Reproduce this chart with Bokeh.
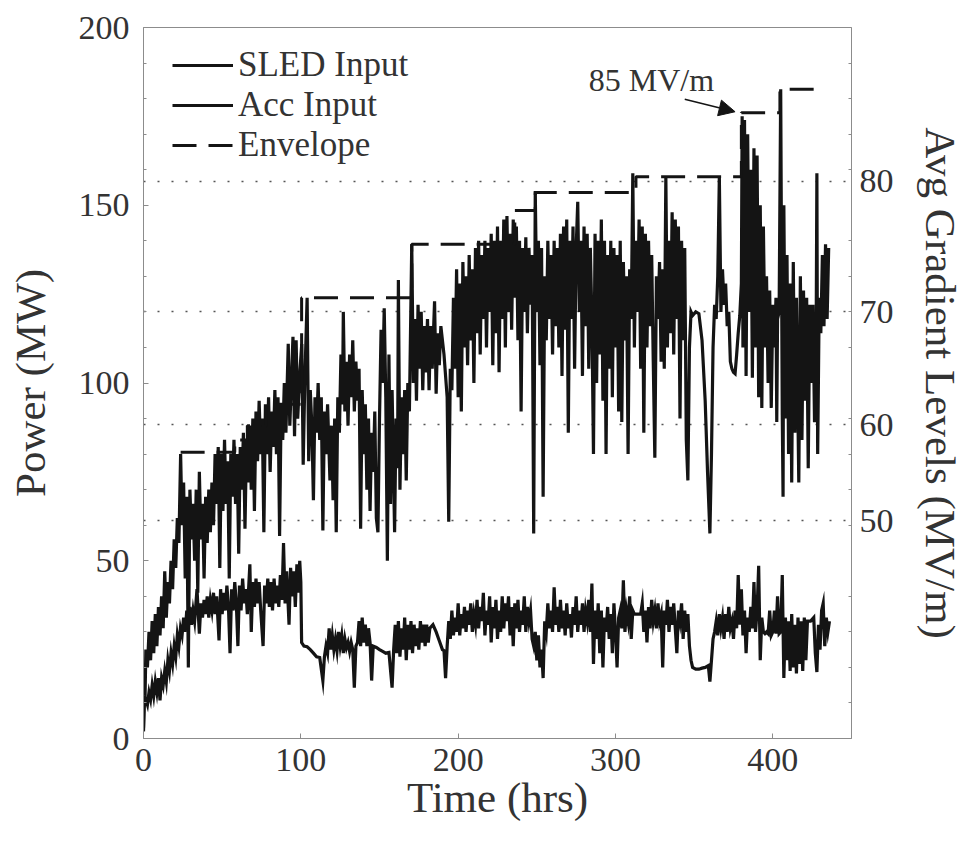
from bokeh.plotting import figure
from bokeh.models import (Range1d, LinearAxis, FixedTicker, Legend, LegendItem,
                          Label, Arrow, NormalHead)
from bokeh.embed import file_html
from bokeh.resources import INLINE

# ---------------- data ----------------
# SLED input power (hrs, MW)
SLED_POINTS = [
    (0, 3), (0.5, 18), (1, 12), (1.5, 25), (2.5, 20), (3.5, 30), (4.5, 22), (5.5, 33), (6.5, 24),
    (7.5, 35), (8.5, 26), (9.5, 37), (10.5, 29), (11.5, 40), (12.5, 31), (13.5, 47), (14.5, 34),
    (15.5, 44), (16.5, 38), (17.5, 50), (18.5, 42), (19.5, 56), (20.5, 48), (21.5, 62), (22.5, 55),
    (23.6, 80), (24.5, 60), (25.5, 72), (26.5, 45), (27.5, 68), (28.5, 20), (29.5, 70), (30.5, 56),
    (31.5, 66), (32.5, 50), (33.5, 70), (34.5, 41), (35.5, 75), (36.5, 56), (37.5, 66), (38.5, 45),
    (39.5, 68), (40.5, 55), (41.5, 70), (42.5, 58), (43.5, 72), (44.5, 60), (45.5, 80), (46.5, 66),
    (47.5, 82), (48.5, 48), (49.5, 80), (50.5, 64), (51.5, 84), (52.5, 66), (53.5, 78), (54.5, 45),
    (55.5, 80), (56.5, 68), (57.5, 84), (58.5, 66), (59.5, 80), (60.5, 52), (61.5, 82), (62.5, 70),
    (63.5, 86), (64.5, 59), (65.5, 84), (66.5, 72), (67.5, 88), (68.5, 70), (69.5, 90), (70.5, 64),
    (71.5, 92), (72.5, 78), (73.5, 95), (74.5, 80), (75.5, 90), (76.5, 58), (77.5, 94), (78.5, 80),
    (79.5, 96), (80.5, 75), (81.5, 92), (82.5, 82), (83.5, 98), (84.5, 80), (85.5, 96), (86.5, 57),
    (87.5, 94), (88.5, 84), (89.5, 100), (90.5, 86), (92, 111), (93, 88), (95, 113), (96, 85),
    (97, 112), (98, 90), (99.5, 104), (100.6, 111), (101.5, 77), (102.5, 100), (104, 124), (105, 78),
    (106, 98), (107, 88), (108, 67), (109, 96), (110, 86), (111, 100), (112, 84), (113, 96),
    (114, 58.5), (115, 92), (116, 80), (117, 94), (118.5, 72.6), (119.5, 88), (120.5, 67), (121.5, 90),
    (122.5, 58), (123.5, 96), (124.5, 86), (125.5, 108), (126.5, 94), (127, 120), (128, 92), (129, 106),
    (130, 88), (131, 108), (132, 96), (133, 112), (134, 92), (135, 106), (136, 95), (137, 104),
    (138, 59), (139, 98), (140, 80), (141, 94), (142, 70), (143, 90), (144, 64), (145, 86), (146, 75),
    (147, 92), (148, 62), (149, 58), (150, 90), (151, 115), (152, 100), (153, 121), (154, 96), (155, 50),
    (156, 108), (157, 66), (158, 98), (159.6, 58), (160.5, 90), (161.5, 76), (162, 129), (163, 70),
    (164, 96), (165, 80), (166, 98), (167, 72.6), (168, 100), (169, 92), (170.5, 139), (171.5, 100),
    (172.5, 118), (173.5, 95), (174.5, 122), (175.5, 104), (176.5, 120), (177.5, 98), (178.5, 116),
    (179.5, 103), (180.5, 118), (181.5, 98), (182.5, 116), (183.5, 104), (185, 123), (186, 97),
    (187, 114), (188, 105), (189, 116), (191, 108), (193, 96), (194, 61), (195, 104), (196, 98),
    (197, 124), (198, 104), (199, 132), (200, 96), (201, 128), (202, 92), (203, 134), (204, 110),
    (205, 130), (206, 105), (207, 136), (208, 112), (209, 132), (210, 100), (211, 138), (212, 114),
    (213, 140), (214, 108), (215, 136), (216, 118), (217, 140), (218, 110), (219, 138), (220, 120),
    (221, 142), (222, 105), (223, 140), (224, 114), (225, 144), (226, 103), (227, 140), (228, 118),
    (229, 146), (230, 110), (231, 147), (232, 120), (233, 142), (234, 115), (235, 146), (236, 124),
    (237, 144), (238, 112), (239, 140), (240, 92), (241, 138), (242, 120), (243, 141), (244, 114),
    (245, 138), (246, 122), (247, 136), (248, 57.7), (249, 154), (250, 120), (251, 140), (252, 105),
    (253, 138), (254, 68), (255, 130), (256, 112), (257, 140), (258, 118), (259, 136), (260, 108),
    (261, 140), (262, 116), (263, 138), (264, 110), (265, 142), (266, 102), (267, 144), (268, 115),
    (269, 146), (270, 86), (271, 140), (272, 118), (273, 144), (274, 104), (275, 138), (276, 151),
    (277, 120), (278, 140), (279, 102), (280, 144), (281, 116), (282, 142), (283, 104), (284, 138),
    (285, 118), (286, 80), (287, 142), (288, 100), (289, 140), (290, 108), (291, 146), (292, 95),
    (293, 140), (294, 80), (295, 136), (296, 104), (297, 140), (298, 96), (299, 138), (300, 110),
    (301, 136), (302, 92), (303, 140), (304, 89), (305, 134), (306, 112), (307, 130), (308, 80),
    (309, 132), (310, 118), (311, 159), (312, 110), (313, 140), (314, 120), (315, 146), (316, 104),
    (317, 144), (318, 86), (319, 142), (320, 110), (321, 140), (322, 116), (323, 136), (324, 106),
    (325, 79), (326, 130), (327, 118), (328, 134), (329, 106), (330, 132), (331, 104), (332, 158),
    (333, 110), (334, 140), (335, 114), (336, 148), (337, 108), (338, 146), (339, 118), (340, 144),
    (341, 90), (342, 140), (343, 112), (344, 138), (345, 84), (346, 72.6), (347, 110), (348, 120),
    (349, 119), (351, 120), (353, 119.5), (355, 112), (357, 95), (358.5, 75), (360, 57.7), (361, 80),
    (362, 110), (363, 122), (364, 118), (365, 130), (366, 158), (367, 120), (368, 132), (369, 122),
    (370, 128), (371, 116), (372, 120), (373, 106), (374, 104), (375, 103), (376, 102.6), (377, 108),
    (378, 114), (379, 119), (380, 128), (380.5, 175), (381, 110), (382, 174), (383, 102), (384, 170),
    (385, 120), (386, 160), (387, 101.5), (388, 166), (389, 110), (390, 164), (391, 96), (392, 150),
    (393, 93), (394, 144), (395, 110), (396, 130), (397, 100), (398, 126), (399, 93), (400, 122),
    (401, 110), (402, 124), (402.5, 89), (403, 118), (404, 120), (405, 182.6), (406, 91), (406.5, 68),
    (407, 150), (408, 90), (409, 136), (410, 80), (411, 128), (412, 72), (413, 134), (414, 86),
    (415, 124), (416.5, 72), (417.5, 130), (418.5, 84), (419.5, 126), (420.5, 95), (421.5, 124),
    (422.5, 76), (423.5, 122), (424.5, 100), (425.5, 122), (426.5, 89), (427.5, 110), (428, 159),
    (428.5, 80), (429.5, 124), (430.5, 114), (431.5, 136), (432.5, 116), (433.5, 139), (434.5, 118),
    (435.5, 138),
]

# Accelerator input power (hrs, MW)
ACC_POINTS = [
    (0, 2), (0.5, 9), (1.5, 11), (2.5, 9.5), (3.5, 13), (4.5, 11), (5.5, 15), (6.5, 12), (7.5, 16),
    (8.5, 13), (9.5, 17), (10.5, 10.7), (11.5, 17), (12.5, 15), (13.5, 19), (14.5, 16), (15.5, 22),
    (16.5, 19), (17.5, 24), (18.5, 21), (19.5, 26), (20.5, 23), (21.5, 29), (22.5, 26), (23.5, 31),
    (24.5, 29), (25.5, 34), (26.5, 30), (27.5, 36), (28.5, 31), (29.5, 37), (30.5, 32), (31.5, 36),
    (32.5, 33), (34, 42), (35.5, 29.5), (36.5, 38), (37.5, 34), (38.5, 39), (39.5, 35), (40.5, 40),
    (41.5, 34), (42.5, 39), (43.5, 36), (44.5, 41), (45.5, 35), (46.5, 40), (48, 27.6), (49, 42),
    (50, 35), (51, 41), (52, 36), (53, 43), (54, 37), (55, 24), (56, 42), (57, 36), (58, 44), (59, 38),
    (60, 26), (61, 43), (62, 36), (63, 45), (64, 38), (65, 42), (66, 35), (67.6, 49), (68.5, 30),
    (69.5, 44), (70.5, 37), (71.5, 45), (72.5, 38), (73.5, 44), (74.5, 36), (76, 26), (77, 43), (78, 38),
    (79, 45), (80, 37), (81, 44), (82, 36), (83, 45), (84, 38), (85, 43), (86, 37), (87, 46), (88, 39),
    (89, 55), (90, 38), (91, 47), (92.5, 32), (93.5, 48), (94.5, 40), (95.5, 47), (96.5, 37), (97.5, 49),
    (98.5, 41), (99.3, 50), (100, 44), (100.5, 27), (102, 26), (104, 25.8), (106, 25), (108, 24),
    (110, 23), (112, 22.8), (114, 16.3), (115, 23), (116, 26), (117, 24), (118, 31), (119, 25),
    (120, 29), (121, 25), (122, 28), (123, 24.7), (124, 30), (125, 26), (126, 29), (127, 24), (128, 28),
    (129, 25.5), (130, 27), (131, 24.5), (132, 27), (133, 25), (134, 14.3), (135, 26), (136, 27),
    (137, 33), (138, 26), (139, 34), (140, 27), (141, 32), (142, 26), (143, 31), (144, 27), (145, 16.3),
    (146, 26), (148, 25.6), (150, 25), (152, 24.5), (154, 24), (156, 24.2), (158, 14.3), (159, 25),
    (160, 32), (161, 24), (162, 33), (163, 23), (164, 31), (165, 25), (166, 34), (167, 22), (168, 32),
    (169, 25), (170, 33), (171, 24), (172, 32), (173, 26), (174, 31), (175, 25), (176, 33), (177, 27),
    (178, 32), (179, 26), (180, 32), (181, 27), (182, 31), (184, 32), (186, 30), (188, 27.5), (190, 25),
    (191, 24.7), (192, 17), (193, 26), (194, 33), (195, 28), (196, 36), (197, 29), (198, 34), (199, 30),
    (200, 38), (201, 29), (202, 35), (203, 31), (204, 37), (205, 30), (206, 36), (207, 32), (208, 38),
    (209, 30), (210, 35), (211, 32), (212, 39), (213, 31), (214, 37), (215, 33), (216, 41), (217, 29),
    (218, 36), (219, 32), (220, 40), (221, 27), (222, 37), (223, 31), (224, 39), (225, 28), (226, 36),
    (227, 30), (228, 40), (229, 31), (230, 38), (231, 33), (232, 40), (233, 29), (234, 37), (235, 26),
    (236, 38), (237, 31), (238, 39), (239, 30), (240, 36), (241, 32), (242, 40), (243, 30), (244, 37),
    (245, 33), (246, 36), (247, 28), (248, 26), (249, 30), (250, 22), (251, 29), (252, 20), (253, 25),
    (254, 17), (255, 33), (256, 30), (257, 38), (258, 31), (259, 36), (260, 30), (261, 42.5), (262, 32),
    (263, 37), (264, 30), (265, 39), (266, 31), (267, 36), (268, 29), (269, 38), (270, 31), (271, 35),
    (272, 28.4), (273, 37), (274, 32), (275, 40), (276, 30), (277, 36), (278, 32), (279, 38), (280, 30),
    (281, 36), (282, 33), (283, 39), (284, 30), (285, 43.6), (286, 21), (287, 36), (288, 28), (289, 38),
    (290, 24), (291, 36), (292, 20), (293, 34), (294, 30), (295, 37), (296, 28), (297, 35), (298, 24),
    (299, 38), (300, 30), (301, 20), (302, 34), (303, 36), (304, 31), (305, 44.5), (306, 30), (307, 36),
    (308, 33), (309, 40), (310, 28), (311, 36), (312, 35), (314, 35), (316, 35), (317, 38), (318, 30),
    (319, 36), (320, 27), (321, 37), (322, 31), (323, 39), (324, 33), (325, 36), (326, 31), (327, 38),
    (328, 33), (329, 35), (330, 20), (331, 36), (332, 32), (333, 39), (334, 30), (335, 37), (336, 32),
    (337, 38), (338, 31), (339, 24), (340, 36), (341, 33), (342, 38), (343, 28), (344, 36), (345, 30),
    (346, 35), (347, 26), (348, 22), (349, 20), (351, 19.5), (353, 19.5), (355, 19.8), (357, 20),
    (359, 20.5), (360, 16), (361, 22), (362, 28), (363, 30), (364, 33), (365, 29), (366, 35), (367, 31),
    (368, 34), (369, 28), (370, 35), (371, 30), (372, 37), (373, 31), (374, 33), (375, 28), (376, 36),
    (377, 31), (378, 46), (379, 32), (380, 42), (381, 29), (382, 36), (383, 24), (384, 34), (385, 30),
    (386, 37), (387, 31), (388, 44), (389, 30), (390, 36), (391, 48.6), (392, 22), (393, 34), (394, 30),
    (395, 29.5), (396, 30), (397, 29.5), (398, 36), (399, 29), (400, 30), (401, 36), (402, 29.5),
    (403, 40), (404, 29.5), (405, 30), (406, 46), (407, 17), (408, 34), (409, 22), (410, 33), (411, 19),
    (412, 35), (413, 20), (414, 32), (415, 18.3), (416, 34), (417, 21), (418, 33), (419, 19), (420, 34),
    (421, 22), (422, 33), (423, 33), (424, 33), (425, 33.5), (426, 34), (427, 24), (428, 18.7), (429, 32),
    (430, 25), (431, 36), (432, 38), (433, 26), (434, 34), (435, 30), (436, 33),
]

# Envelope: step levels (start hour, MW)
env_t = [23.6, 58, 66, 78, 100.5, 170.5, 236, 249, 313, 380, 404.5, 428]
env_mw = [80.5, 84, 88, 94, 124, 139, 148.5, 153.6, 158, 176, 182.6, 182.6]

sled_t = [p[0] for p in SLED_POINTS]
sled_mw = [p[1] for p in SLED_POINTS]
acc_t = [p[0] for p in ACC_POINTS]
acc_mw = [p[1] for p in ACC_POINTS]

x_ticks = [0, 100, 200, 300, 400]
power_ticks = [0, 50, 100, 150, 200]
power_minor = [10, 20, 30, 40, 60, 70, 80, 90, 110, 120, 130, 140, 160, 170, 180, 190]
grad_levels = [50, 60, 70, 80]          # MV/m, right-hand labels
K_POWER = 0.0245                         # MW per (MV/m)^2
grad_mw = [K_POWER * g * g for g in grad_levels]

# ---------------- styling ----------------
FONT = "Liberation Serif"
INK = "#141414"
TXT = "#333333"
FRAME = "#8c8c8c"

p = figure(width=966, height=849, output_backend="svg", toolbar_location=None,
           x_range=Range1d(0, 450), y_range=Range1d(0, 200),
           min_border_left=143, min_border_right=114, min_border_top=27, min_border_bottom=111,
           background_fill_color="white", border_fill_color="white")

p.outline_line_color = FRAME
p.outline_line_width = 1
p.xgrid.visible = False
p.ygrid.ticker = FixedTicker(ticks=grad_mw)
p.ygrid.grid_line_color = "#555555"
p.ygrid.grid_line_dash = "2 12"
p.ygrid.grid_line_width = 1.5

def style_axis(ax):
    ax.axis_line_color = FRAME
    ax.major_tick_line_color = FRAME
    ax.minor_tick_line_color = FRAME
    ax.major_tick_in = 5
    ax.major_tick_out = 0
    ax.minor_tick_in = 3
    ax.minor_tick_out = 0
    ax.major_label_text_font = FONT
    ax.major_label_text_font_size = "34px"
    ax.major_label_text_color = TXT
    ax.axis_label_text_font = FONT
    ax.axis_label_text_font_size = "43px"
    ax.axis_label_text_font_style = "normal"
    ax.axis_label_text_color = TXT

xa = p.xaxis[0]
xa.ticker = FixedTicker(ticks=x_ticks)
xa.axis_label = "Time (hrs)"
style_axis(xa)
xa.major_label_standoff = 10
xa.axis_label_standoff = 0

ya = p.yaxis[0]
ya.ticker = FixedTicker(ticks=power_ticks, minor_ticks=power_minor)
ya.axis_label = "Power (MW)"
style_axis(ya)
ya.major_label_standoff = 14
ya.axis_label_standoff = 22

ra = LinearAxis(ticker=FixedTicker(ticks=grad_mw, minor_ticks=power_minor),
                axis_label="Avg Gradient Levels (MV/m)")
ra.major_label_overrides = {v: str(g) for v, g in zip(grad_mw, grad_levels)}
style_axis(ra)
ra.major_tick_in = 0
ra.major_label_standoff = 8
ra.axis_label_standoff = 20
p.add_layout(ra, "right")

# ---------------- data ----------------
r_sled = p.line(sled_t, sled_mw, line_color=INK, line_width=3.2, line_join="miter")
r_acc = p.line(acc_t, acc_mw, line_color=INK, line_width=3.2, line_join="miter")
r_env = p.step(env_t, env_mw, mode="after", line_color=INK, line_width=3, line_dash="24 12")

legend = Legend(items=[LegendItem(label="SLED Input", renderers=[r_sled]),
                       LegendItem(label="Acc Input", renderers=[r_acc]),
                       LegendItem(label="Envelope", renderers=[r_env])],
                location=(29, 573), orientation="vertical",
                label_text_font=FONT, label_text_font_size="35px", label_text_color=TXT,
                glyph_width=61, glyph_height=30, label_standoff=5, spacing=0,
                padding=0, margin=0, border_line_color=None, background_fill_alpha=0)
p.add_layout(legend)

p.add_layout(Label(x=283, y=180.3, text="85 MV/m", text_font=FONT, text_font_size="32px",
                   text_color=TXT))
p.add_layout(Arrow(end=NormalHead(size=16, fill_color=INK, line_color=INK),
                   x_start=344, y_start=179.8, x_end=376, y_end=176.3,
                   line_color=INK, line_width=1.5))

open("out.html", "w").write(file_html(p, INLINE))
